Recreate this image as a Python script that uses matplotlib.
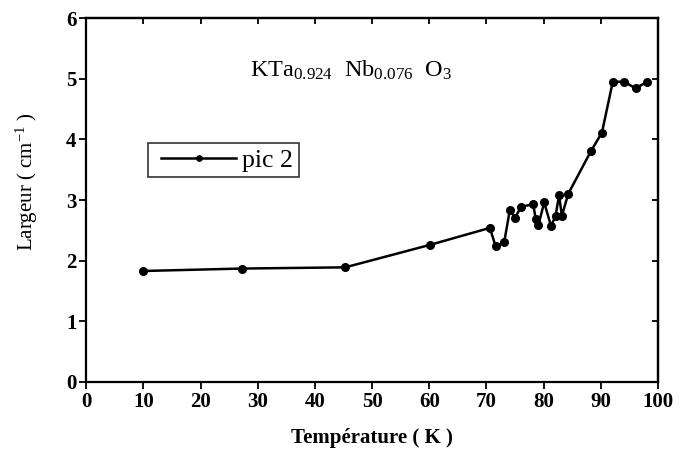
import numpy as np
import matplotlib
matplotlib.use('Agg')
import matplotlib.pyplot as plt
import matplotlib as mpl
from matplotlib.lines import Line2D
from matplotlib.legend_handler import HandlerLine2D

mpl.rcParams['font.family'] = 'Liberation Serif'
mpl.rcParams['mathtext.fontset'] = 'custom'
mpl.rcParams['mathtext.rm'] = 'Liberation Serif'
mpl.rcParams['mathtext.it'] = 'Liberation Serif:italic'
mpl.rcParams['axes.linewidth'] = 1.6

# temperature (K) and width (cm-1)
temperature = [10.0, 27.2, 45.3, 60.1, 70.6, 71.6, 73.1, 74.1, 75.0, 76.1,
               78.2, 78.6, 79.1, 80.1, 81.3, 82.1, 82.7, 83.2, 84.3,
               88.3, 90.2, 92.1, 94.1, 96.1, 98.1]
largeur = [1.83, 1.87, 1.89, 2.26, 2.54, 2.24, 2.30, 2.84, 2.71, 2.89,
           2.93, 2.69, 2.59, 2.96, 2.57, 2.74, 3.08, 2.74, 3.10,
           3.81, 4.11, 4.95, 4.95, 4.84, 4.95]

xticks = np.arange(0, 101, 10)
yticks = np.arange(0, 7, 1)


def main():
    fig = plt.figure(figsize=(6.79, 4.63), dpi=100)
    ax = fig.add_axes([0.127, 0.175, 0.842, 0.786])

    ax.plot(temperature, largeur, '-o', color='k', lw=1.8, ms=5.5,
            label='pic 2')

    ax.set_xlim(0, 100)
    ax.set_ylim(0, 6)
    ax.set_xticks(xticks)
    ax.set_yticks(yticks)
    ax.tick_params(axis='both', direction='out', length=5, width=1.3,
                   labelsize=15, pad=2)
    for lab in ax.get_xticklabels() + ax.get_yticklabels():
        lab.set_fontweight('bold')

    # inward ticks on the top and right spines
    top = ax.secondary_xaxis('top')
    top.set_xticks(xticks)
    top.tick_params(direction='in', length=4, width=1.3, labeltop=False)
    right = ax.secondary_yaxis('right')
    right.set_yticks(yticks)
    right.tick_params(direction='in', length=4, width=1.3, labelright=False)

    ax.set_xlabel('Température ( K )', fontsize=15, fontweight='bold',
                  labelpad=12)
    ax.set_ylabel('Largeur ( cm$^{-1}$ )', fontsize=15)
    ax.yaxis.set_label_coords(-0.080, 0.55)

    ax.text(0.287, 0.838, r'KTa$_{0.924}$  Nb$_{0.076}$  O$_3$',
            transform=ax.transAxes, fontsize=17.5, ha='left', va='baseline')

    leg = ax.legend(loc='upper left', bbox_to_anchor=(0.108, 0.657),
                    borderaxespad=0, fontsize=18.5, frameon=True,
                    fancybox=False, handlelength=3.2, borderpad=0.22,
                    handletextpad=0.25, markerscale=0.7,
                    handler_map={Line2D: HandlerLine2D(xpad=0.3)})
    leg.get_frame().set_edgecolor('k')
    leg.get_frame().set_linewidth(1.2)

    fig.savefig('out.png', dpi=100)


if __name__ == "__main__":
    main()
